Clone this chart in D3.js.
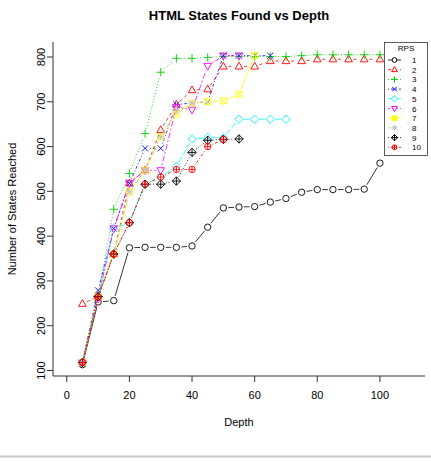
<!DOCTYPE html>
<html>
<head>
<meta charset="utf-8">
<script src="https://cdn.jsdelivr.net/npm/d3@7"></script>
<style>
  body { margin: 0; background: #fff; }
  text { font-family: "Liberation Sans", Arial, sans-serif; fill: #000; }
</style>
</head>
<body>
<div id="chart"></div>
<script>
const WIDTH = 431;
const HEIGHT = 461;

// depths sampled every 5
const depths = [5, 10, 15, 20, 25, 30, 35, 40, 45, 50, 55, 60, 65, 70, 75, 80, 85, 90, 95, 100];
const rpsLabels = ['1', '2', '3', '4', '5', '6', '7', '8', '9', '10'];

// states reached per RPS setting (series stop where the run ended)
const rps1 = [113, 253, 256, 374, 375, 375, 375, 378, 420, 463, 465, 466, 476, 484, 498, 504, 504, 504, 505, 563];
const rps2 = [249, 265, 360, 518, 547, 637, 694, 726, 728, 779, 779, 779, 791, 791, 791, 795, 795, 795, 795, 795];
const rps3 = [118, 265, 460, 540, 629, 766, 797, 797, 799, 801, 801, 801, 801, 801, 803, 805, 805, 805, 805, 805];
const rps4 = [118, 279, 417, 518, 596, 596, 694, 697, 700, 803, 803, 803, 803];
const rps5 = [118, 265, 417, 430, 516, 532, 556, 617, 620, 620, 661, 661, 661, 661];
const rps6 = [118, 260, 417, 518, 547, 547, 688, 682, 780, 803, 803];
const rps7 = [118, 265, 360, 499, 547, 622, 673, 697, 700, 702, 717, 803];
const rps8 = [118, 265, 360, 499, 547, 622, 680, 697];
const rps9 = [118, 265, 360, 430, 516, 516, 523, 587, 614, 616, 617];
const rps10 = [118, 264, 360, 430, 516, 532, 549, 549, 600, 616];

const xTicks = [0, 20, 40, 60, 80, 100];
const yTicks = [100, 200, 300, 400, 500, 600, 700, 800];

const allSeries = [rps1, rps2, rps3, rps4, rps5, rps6, rps7, rps8, rps9, rps10];
// R default palette, recycled after 8
const colors = ['#000000', '#FF0000', '#00CD00', '#0000FF', '#00FFFF', '#FF00FF', '#FFFF00', '#BEBEBE', '#000000', '#FF0000'];
// lty 1..6 then recycled
const dashes = [null, '3,3', '1,2', '1,2,3,2', '6,2', '2,2,6,2', null, '3,3', '1,2', '1,2,3,2'];

const svg = d3.select('#chart').append('svg')
  .attr('width', WIDTH)
  .attr('height', HEIGHT);

const plot = { left: 53, right: 425, top: 42, bottom: 376 };

// 0..110 with R's 4% padding
const xScale = d3.scaleLinear().domain([-4.4, 114.4]).range([plot.left, plot.right]);
const yScale = d3.scaleLinear().domain([100, 800]).range([370.5, 57]);

// symbol paths (R pch 1..10) around 0,0
function pchPath(pch, s) {
  const p = d3.path();
  const r = 3.2 * s;
  const circle = rr => { p.moveTo(rr, 0); p.arc(0, 0, rr, 0, Math.PI * 2); };
  const plus = a => { p.moveTo(-a, 0); p.lineTo(a, 0); p.moveTo(0, -a); p.lineTo(0, a); };
  const cross = a => { p.moveTo(-a, -a); p.lineTo(a, a); p.moveTo(-a, a); p.lineTo(a, -a); };
  const diamond = a => { p.moveTo(0, -a); p.lineTo(a, 0); p.lineTo(0, a); p.lineTo(-a, 0); p.closePath(); };
  if (pch === 1) circle(r);
  if (pch === 2) { p.moveTo(0, -4.2 * s); p.lineTo(3.8 * s, 2.6 * s); p.lineTo(-3.8 * s, 2.6 * s); p.closePath(); }
  if (pch === 3) plus(4.2 * s);
  if (pch === 4) cross(3 * s);
  if (pch === 5) diamond(4.2 * s);
  if (pch === 6) { p.moveTo(0, 4.2 * s); p.lineTo(3.8 * s, -2.6 * s); p.lineTo(-3.8 * s, -2.6 * s); p.closePath(); }
  if (pch === 7) { const a = 3 * s; p.rect(-a, -a, 2 * a, 2 * a); cross(a); }
  if (pch === 8) { plus(3.6 * s); cross(2.6 * s); }
  if (pch === 9) { diamond(4.2 * s); plus(4.2 * s); }
  if (pch === 10) { circle(r); plus(r); }
  return p.toString();
}

// axes frame (bty = "l")
svg.append('path')
  .attr('d', `M${plot.left},${plot.top}V${plot.bottom}H${plot.right}`)
  .attr('fill', 'none')
  .attr('stroke', '#333')
  .attr('stroke-width', 1);

// x axis
svg.selectAll('.xtick').data(xTicks).enter().append('line')
  .attr('x1', d => xScale(d)).attr('x2', d => xScale(d))
  .attr('y1', plot.bottom).attr('y2', plot.bottom + 6)
  .attr('stroke', '#333');
svg.selectAll('.xlab').data(xTicks).enter().append('text')
  .attr('x', d => xScale(d))
  .attr('y', 399)
  .attr('text-anchor', 'middle')
  .attr('font-size', 11)
  .text(d => d);

// y axis, labels parallel to axis
svg.selectAll('.ytick').data(yTicks).enter().append('line')
  .attr('x1', plot.left).attr('x2', plot.left - 6)
  .attr('y1', d => yScale(d)).attr('y2', d => yScale(d))
  .attr('stroke', '#333');
svg.selectAll('.ylab').data(yTicks).enter().append('text')
  .attr('transform', d => `translate(45, ${yScale(d)}) rotate(-90)`)
  .attr('text-anchor', 'middle')
  .attr('font-size', 11)
  .text(d => d);

// titles
svg.append('text')
  .attr('x', (plot.left + plot.right) / 2)
  .attr('y', 20)
  .attr('text-anchor', 'middle')
  .attr('font-size', 13)
  .attr('font-weight', 'bold')
  .text('HTML States Found vs Depth');
svg.append('text')
  .attr('x', (plot.left + plot.right) / 2)
  .attr('y', 426)
  .attr('text-anchor', 'middle')
  .attr('font-size', 11)
  .text('Depth');
svg.append('text')
  .attr('transform', `translate(16, ${(plot.top + plot.bottom) / 2}) rotate(-90)`)
  .attr('text-anchor', 'middle')
  .attr('font-size', 11)
  .text('Number of States Reached');

// type = "b": segments with gaps around points
const GAP = 5;
allSeries.forEach((vals, si) => {
  const g = svg.append('g');
  const pts = vals.map((v, i) => [xScale(depths[i]), yScale(v)]);
  const segs = d3.pairs(pts).filter(([a, b]) => Math.hypot(b[0] - a[0], b[1] - a[1]) > GAP * 2);
  g.selectAll('line').data(segs).enter().append('line')
    .each(function ([a, b]) {
      const d = Math.hypot(b[0] - a[0], b[1] - a[1]);
      const ux = (b[0] - a[0]) / d, uy = (b[1] - a[1]) / d;
      d3.select(this)
        .attr('x1', a[0] + ux * GAP).attr('y1', a[1] + uy * GAP)
        .attr('x2', b[0] - ux * GAP).attr('y2', b[1] - uy * GAP);
    })
    .attr('stroke', colors[si])
    .attr('stroke-width', 0.8)
    .attr('stroke-dasharray', dashes[si]);
  g.selectAll('path').data(pts).enter().append('path')
    .attr('transform', d => `translate(${d[0]},${d[1]})`)
    .attr('d', pchPath(si + 1, 1))
    .attr('fill', 'none')
    .attr('stroke', colors[si])
    .attr('stroke-width', 0.9);
});

// legend
const legend = svg.append('g');
legend.append('rect')
  .attr('x', 384.5).attr('y', 42.5)
  .attr('width', 43).attr('height', 113)
  .attr('fill', '#fff')
  .attr('stroke', '#333')
  .attr('stroke-width', 0.8);
legend.append('text')
  .attr('x', 406).attr('y', 51)
  .attr('text-anchor', 'middle')
  .attr('font-size', 8)
  .text('RPS');
const legendY = d3.scalePoint().domain(rpsLabels).range([60, 147.3]);
rpsLabels.forEach((lab, i) => {
  const y = legendY(lab);
  legend.append('line')
    .attr('x1', 388).attr('x2', 401)
    .attr('y1', y).attr('y2', y)
    .attr('stroke', colors[i])
    .attr('stroke-width', 0.8)
    .attr('stroke-dasharray', dashes[i]);
  legend.append('path')
    .attr('transform', `translate(394.5, ${y})`)
    .attr('d', pchPath(i + 1, 0.75))
    .attr('fill', i === 6 ? '#FFFF00' : '#fff')
    .attr('stroke', colors[i]);
  legend.append('text')
    .attr('x', 412).attr('y', y + 3)
    .attr('font-size', 8)
    .text(lab);
});

// bottom frame line of the image
svg.append('line')
  .attr('x1', 0).attr('x2', WIDTH)
  .attr('y1', 456.5).attr('y2', 456.5)
  .attr('stroke', '#c8c8c8')
  .attr('stroke-width', 2);
</script>
</body>
</html>
